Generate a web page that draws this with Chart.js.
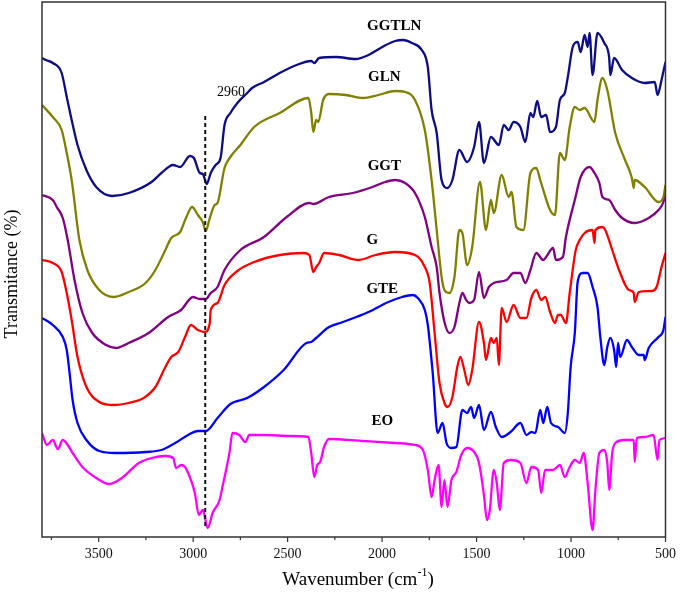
<!DOCTYPE html>
<html lang="en">
<head>
<meta charset="UTF-8">
<title>FTIR spectra</title>
<script src="https://cdn.jsdelivr.net/npm/chart.js"></script>
<style>
    body { margin: 0; background: #fff; }
</style>
</head>
<body>
<canvas id="chartCanvas" width="685" height="597"></canvas>
<script>
    // wavenumbers (cm-1) and transmittance (arbitrary, stacked) per sample
    const ggtlnX = [3800,3779,3743,3696,3669,3643,3612,3565,3513,3429,3341,3220,3168,3106,3069,3017,2996,2965,2949,2928,2907,2881,2855,2834,2803,2766,2714,2688,2625,2542,2453,2375,2359,2333,2244,2140,2072,1999,1931,1889,1842,1790,1758,1738,1711,1685,1654,1628,1591,1550,1513,1487,1461,1424,1382,1356,1330,1304,1268,1242,1215,1200,1179,1158,1132,1111,1080,1059,1033,1017,991,965,949,928,912,902,886,860,824,798,792,772,730,678,610,557,542,521,500];
    const ggtlnY = [479,477,474,464,440,417,392,367,350,341,344,355,364,372,370,381,379,364,363,353,364,372,379,412,424,434,444,449,455,464,472,476,474,479,480,478,482,490,496,497,494,487,470,427,404,357,349,357,387,375,390,415,374,400,392,412,407,415,410,395,424,420,436,420,422,405,410,437,444,460,490,495,485,502,490,504,462,504,494,479,462,479,467,459,454,455,442,457,475];

    const glnX = [3800,3743,3696,3669,3643,3602,3560,3497,3419,3341,3252,3200,3147,3116,3069,3038,3006,2975,2949,2933,2912,2886,2871,2834,2803,2750,2677,2542,2390,2375,2364,2349,2338,2312,2281,2192,2103,2019,1931,1878,1826,1774,1738,1711,1685,1670,1644,1617,1591,1575,1550,1523,1482,1450,1424,1409,1367,1330,1315,1289,1252,1215,1184,1163,1111,1085,1059,1033,1007,980,954,928,876,860,834,808,766,714,678,668,663,610,537,511,500];
    const glnY = [432,420,407,384,357,297,267,247,240,245,254,267,287,299,305,319,330,322,315,306,319,332,334,369,380,392,410,424,439,424,405,417,415,437,443,442,439,442,446,445,437,407,357,307,260,247,244,260,307,304,272,290,355,307,337,324,362,340,345,310,307,364,369,357,327,322,384,377,410,430,427,429,415,437,459,447,404,377,359,349,357,350,335,340,352];

    const ggtX = [3800,3743,3722,3690,3664,3628,3586,3534,3461,3408,3341,3236,3132,3064,3001,2965,2933,2907,2871,2834,2750,2625,2505,2385,2364,2281,2155,2051,1983,1931,1878,1826,1774,1738,1711,1696,1670,1644,1617,1591,1575,1555,1539,1513,1487,1461,1435,1409,1341,1304,1268,1242,1215,1184,1147,1132,1095,1080,1043,1027,980,949,902,876,850,834,798,766,730,662,589,537,511,500];
    const ggtY = [342,337,330,319,297,257,224,204,192,189,194,204,220,227,240,238,238,244,250,267,287,300,320,334,333,340,344,350,355,357,354,344,320,290,270,244,215,204,210,234,244,237,234,237,265,239,250,254,257,264,264,254,267,284,277,280,289,277,280,300,337,360,370,364,354,340,337,327,319,314,319,327,335,344];

    const gX = [3800,3743,3696,3669,3643,3612,3565,3497,3419,3341,3262,3200,3147,3116,3079,3043,3012,2975,2938,2912,2907,2871,2834,2766,2677,2542,2416,2385,2364,2349,2333,2307,2228,2124,2035,1931,1826,1774,1748,1722,1696,1670,1654,1628,1602,1586,1565,1544,1523,1487,1461,1450,1424,1409,1393,1382,1367,1341,1304,1268,1236,1210,1184,1158,1137,1111,1085,1069,1054,1027,1007,975,954,928,886,876,871,834,819,782,746,694,668,663,642,573,547,521,500];
    const gY = [277,274,265,244,217,180,150,135,132,134,139,150,170,180,185,200,212,207,205,214,227,234,252,266,275,282,284,282,265,270,274,284,282,277,282,285,282,270,254,204,154,134,130,140,170,180,167,152,167,215,194,177,199,194,199,172,229,215,232,219,219,239,247,237,240,225,214,222,222,214,244,287,297,304,307,294,307,310,307,287,267,247,244,235,245,246,250,270,284];

    const gteX = [3800,3743,3690,3669,3654,3638,3612,3565,3497,3408,3252,3168,3095,3027,2975,2933,2871,2803,2714,2625,2521,2401,2375,2349,2281,2207,2072,1967,1894,1837,1811,1774,1758,1732,1706,1680,1659,1633,1607,1575,1550,1529,1513,1487,1461,1424,1398,1367,1320,1268,1236,1210,1189,1163,1147,1126,1106,1069,1033,1017,1002,980,965,939,912,886,860,845,824,808,792,772,761,751,740,704,678,642,615,610,589,537,511,500];
    const gteY = [219,212,200,187,164,137,114,97,86,84,85,87,94,102,106,106,119,133,139,150,167,194,195,199,210,215,225,235,240,242,239,227,212,164,104,114,94,89,90,127,124,130,119,132,107,125,110,100,105,114,102,105,104,127,114,130,114,110,104,124,170,204,255,264,264,250,230,200,172,190,199,187,170,194,180,197,190,182,182,177,189,200,207,220];

    const eoX = [3800,3774,3743,3716,3690,3664,3638,3586,3513,3445,3377,3288,3220,3147,3106,3090,3064,3043,3012,2991,2970,2949,2923,2897,2860,2845,2808,2792,2756,2724,2703,2625,2489,2390,2375,2359,2343,2328,2307,2281,2103,1931,1826,1784,1758,1738,1722,1701,1685,1670,1654,1633,1607,1581,1550,1513,1487,1461,1445,1430,1409,1393,1377,1356,1320,1268,1236,1210,1174,1158,1137,1095,1059,1033,1007,980,954,933,912,886,871,850,824,808,798,782,766,714,668,663,652,610,563,542,532,500];
    const eoY = [104,92,97,88,97,92,84,70,59,53,59,74,79,81,79,69,72,70,57,44,22,27,9,24,37,50,84,104,102,95,102,102,101,100,84,60,72,75,90,98,96,94,92,87,67,40,57,72,30,57,30,57,65,82,89,85,74,42,17,27,67,54,27,74,77,74,54,70,67,44,67,67,72,60,70,77,74,84,54,7,47,84,87,74,47,84,94,97,97,75,99,100,102,77,97,99];

    // dotted marker at the C-H stretch
    const markX = [2936, 2936];
    const markY = [421, 8];

    const tickVals = [3500, 3000, 2500, 2000, 1500, 1000, 500];
    const minorVals = [3750, 3250, 2750, 2250, 1750, 1250, 750];

    const seriesNames = ['GGTLN', 'GLN', 'GGT', 'G', 'GTE', 'EO'];
    const seriesColors = ['#0c0c86', '#808000', '#800080', '#ff0000', '#0000ff', '#ff00ff'];
    const labelX = [1936, 1988, 1988, 2051, 1999, 1999];
    const labelY = [511, 460, 371, 297, 248, 116];

    const allX = [ggtlnX, glnX, ggtX, gX, gteX, eoX];
    const allY = [ggtlnY, glnY, ggtY, gY, gteY, eoY];

    const zip = (xs, ys) => xs.map((x, i) => ({ x: x, y: ys[i] }));

    const datasets = [{
        label: 'marker',
        data: zip(markX, markY),
        borderColor: '#111',
        borderWidth: 2,
        borderDash: [4, 3],
        showLine: true,
        pointRadius: 0
    }];
    seriesNames.forEach((name, i) => {
        datasets.push({
            label: name,
            data: zip(allX[i], allY[i]),
            borderColor: seriesColors[i],
            borderWidth: 2.3,
            showLine: true,
            pointRadius: 0,
            cubicInterpolationMode: 'monotone'
        });
    });

    const decorPlugin = {
        id: 'decor',
        afterDraw(chart) {
            const ctx = chart.ctx;
            const a = chart.chartArea;
            const xs = chart.scales.x;
            const ys = chart.scales.y;
            ctx.save();
            // frame
            ctx.strokeStyle = '#333';
            ctx.lineWidth = 1.5;
            ctx.strokeRect(a.left, a.top, a.right - a.left, a.bottom - a.top);
            // bottom ticks
            ctx.lineWidth = 1.2;
            tickVals.forEach(v => {
                const p = xs.getPixelForValue(v);
                ctx.beginPath(); ctx.moveTo(p, a.bottom); ctx.lineTo(p, a.bottom + 5); ctx.stroke();
            });
            minorVals.forEach(v => {
                const p = xs.getPixelForValue(v);
                ctx.beginPath(); ctx.moveTo(p, a.bottom); ctx.lineTo(p, a.bottom + 3); ctx.stroke();
            });
            // sample labels
            ctx.fillStyle = '#000';
            ctx.textAlign = 'center';
            ctx.textBaseline = 'middle';
            ctx.font = 'bold 15px "Liberation Serif"';
            seriesNames.forEach((name, i) => {
                ctx.fillText(name, xs.getPixelForValue(labelX[i]), ys.getPixelForValue(labelY[i]));
            });
            ctx.font = '14px "Liberation Serif"';
            ctx.fillText('2960', xs.getPixelForValue(2800), ys.getPixelForValue(445));
            // x title with superscript
            ctx.font = '19px "Liberation Serif"';
            const t1 = 'Wavenumber (cm';
            const w1 = ctx.measureText(t1).width;
            ctx.font = '12px "Liberation Serif"';
            const w2 = ctx.measureText('-1').width;
            ctx.font = '19px "Liberation Serif"';
            const w3 = ctx.measureText(')').width;
            let x0 = 358 - (w1 + w2 + w3) / 2;
            const yT = 580;
            ctx.textAlign = 'left';
            ctx.fillText(t1, x0, yT);
            ctx.font = '12px "Liberation Serif"';
            ctx.fillText('-1', x0 + w1, yT - 7);
            ctx.font = '19px "Liberation Serif"';
            ctx.fillText(')', x0 + w1 + w2, yT);
            // y title
            ctx.font = '18px "Liberation Serif"';
            ctx.translate(12, 274);
            ctx.rotate(-Math.PI / 2);
            ctx.textAlign = 'center';
            ctx.fillText('Transmitance (%)', 0, 0);
            ctx.restore();
        }
    };

    const ctx = document.getElementById('chartCanvas').getContext('2d');
    const chart = new Chart(ctx, {
        type: 'scatter',
        data: { datasets: datasets },
        options: {
            responsive: false,
            animation: false,
            layout: { padding: { top: 2, right: 11, left: 0, bottom: 0 } },
            plugins: {
                legend: { display: false },
                tooltip: { enabled: false }
            },
            scales: {
                x: {
                    type: 'linear',
                    reverse: true,
                    min: 500,
                    max: 3800,
                    afterBuildTicks: s => { s.ticks = tickVals.map(v => ({ value: v })); },
                    afterFit: s => { s.height = 60; },
                    ticks: {
                        autoSkip: false,
                        maxRotation: 0,
                        padding: 9,
                        color: '#111',
                        font: { family: 'Liberation Serif', size: 14 },
                        callback: v => String(v)
                    },
                    grid: { display: false, drawTicks: false },
                    border: { display: false }
                },
                y: {
                    min: 0,
                    max: 535,
                    afterFit: s => { s.width = 42; },
                    ticks: { display: false },
                    grid: { display: false, drawTicks: false },
                    border: { display: false }
                }
            }
        },
        plugins: [decorPlugin]
    });
</script>
</body>
</html>
